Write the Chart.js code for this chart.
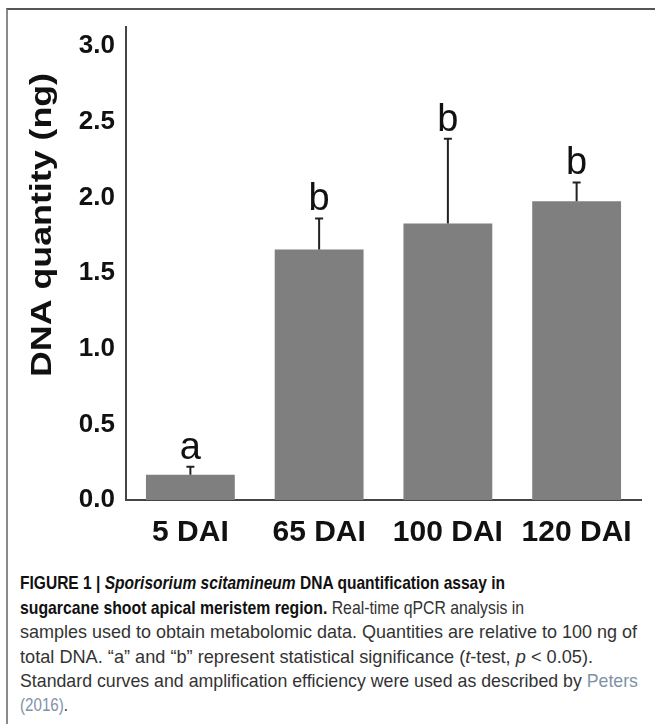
<!DOCTYPE html>
<html>
<head>
<meta charset="utf-8">
<script src="https://cdn.jsdelivr.net/npm/chart.js@4.4.1/dist/chart.umd.min.js"></script>
<style>
  html, body { margin: 0; padding: 0; background: #fff; }
  #wrap { position: relative; width: 655px; height: 724px; overflow: hidden; background: #fff; }
  #frame { position: absolute; left: 6px; top: 8px; width: 660px; height: 740px; border-left: 2px solid #8a8a8a; border-top: 2px solid #555; box-sizing: border-box; }
  #chartBox { position: absolute; left: 0; top: 0; width: 655px; height: 560px; }
  .cap { position: absolute; left: 20px; white-space: nowrap; font-family: "Liberation Sans", Arial, sans-serif; font-size: 19px; color: #333; line-height: 22px; transform-origin: 0 50%; }
  .cap b { color: #111; }
  .link { color: #7f93a8; }
</style>
</head>
<body>
<div id="wrap">
  <div id="frame"></div>
  <div id="chartBox"><canvas id="c" width="655" height="560"></canvas></div>
  <div class="cap" data-w="485" style="top:572px"><b>FIGURE 1 | <i>Sporisorium scitamineum</i> DNA quantification assay in</b></div>
  <div class="cap" data-w="504" style="top:597px"><b>sugarcane shoot apical meristem region.</b> Real-time qPCR analysis in</div>
  <div class="cap" data-w="617" style="top:621px">samples used to obtain metabolomic data. Quantities are relative to 100 ng of</div>
  <div class="cap" data-w="573" style="top:646px">total DNA. “a” and “b” represent statistical significance (<i>t</i>-test, <i>p</i> &lt; 0.05).</div>
  <div class="cap" data-w="618" style="top:670px">Standard curves and amplification efficiency were used as described by <span class="link">Peters</span></div>
  <div class="cap" data-w="48" style="top:694px"><span class="link">(2016)</span>.</div>
</div>
<script>
const categories = ["5 DAI", "65 DAI", "100 DAI", "120 DAI"];
const dnaQuantity = [0.167, 1.657, 1.828, 1.976];
const errorUpper = [0.053, 0.205, 0.560, 0.124];
const sigLetters = ["a", "b", "b", "b"];
const yTickValues = [0.0, 0.5, 1.0, 1.5, 2.0, 2.5, 3.0];
const yAxisTitle = "DNA quantity (ng)";

// fit caption lines horizontally to the reference widths
document.querySelectorAll(".cap").forEach(el => {
  const target = parseFloat(el.dataset.w);
  const w = el.getBoundingClientRect().width;
  if (w > 0) el.style.transform = "scaleX(" + (target / w) + ")";
});

const overlay = {
  id: "overlay",
  afterDatasetsDraw(chart) {
    const ctx = chart.ctx;
    const meta = chart.getDatasetMeta(0);
    const y = chart.scales.y;
    ctx.save();
    meta.data.forEach((bar, i) => {
      const top = dnaQuantity[i] + errorUpper[i];
      const yTop = y.getPixelForValue(top);
      const yBar = y.getPixelForValue(dnaQuantity[i]);
      const x = bar.x;
      ctx.strokeStyle = "#222";
      ctx.lineWidth = 2;
      ctx.beginPath();
      ctx.moveTo(x, yBar);
      ctx.lineTo(x, yTop);
      ctx.moveTo(x - 4, yTop);
      ctx.lineTo(x + 4, yTop);
      ctx.stroke();
      ctx.fillStyle = "#111";
      ctx.font = "38px 'Liberation Sans', Arial, sans-serif";
      ctx.textAlign = "center";
      ctx.textBaseline = "alphabetic";
      ctx.fillText(sigLetters[i], x, yTop - 8);
    });
    // y-axis title, stretched along its length like the reference
    ctx.translate(43, 225);
    ctx.rotate(-Math.PI / 2);
    ctx.fillStyle = "#111";
    ctx.font = "bold 29px 'Liberation Sans', Arial, sans-serif";
    const tw = ctx.measureText(yAxisTitle).width;
    ctx.scale(304 / tw, 1);
    ctx.textAlign = "center";
    ctx.textBaseline = "middle";
    ctx.fillText(yAxisTitle, 0, 0);
    ctx.restore();
  }
};

new Chart(document.getElementById("c"), {
  type: "bar",
  data: {
    labels: categories,
    datasets: [{
      data: dnaQuantity,
      backgroundColor: "#7f7f7f",
      borderWidth: 0,
      barPercentage: 0.69,
      categoryPercentage: 1.0
    }]
  },
  options: {
    responsive: false,
    animation: false,
    events: [],
    layout: { padding: { left: 0, top: 26, right: 14, bottom: 0 } },
    plugins: { legend: { display: false }, tooltip: { enabled: false } },
    scales: {
      x: {
        grid: { display: false, drawTicks: false },
        border: { display: true, color: "#444", width: 2 },
        ticks: {
          color: "#111",
          padding: 15,
          maxRotation: 0,
          font: { family: "'Liberation Sans', Arial, sans-serif", size: 30, weight: "bold" }
        },
        afterFit(scale) { scale.height = 60; }
      },
      y: {
        min: 0,
        max: 3.13,
        grid: { display: false, drawTicks: false },
        border: { display: true, color: "#444", width: 2 },
        afterBuildTicks(scale) {
          scale.ticks = yTickValues.map(v => ({ value: v }));
        },
        ticks: {
          color: "#111",
          padding: 11,
          font: { family: "'Liberation Sans', Arial, sans-serif", size: 26, weight: "bold" },
          callback: (v) => Number(v).toFixed(1)
        },
        afterFit(scale) { scale.width = 126; }
      }
    }
  },
  plugins: [overlay]
});
</script>
</body>
</html>
